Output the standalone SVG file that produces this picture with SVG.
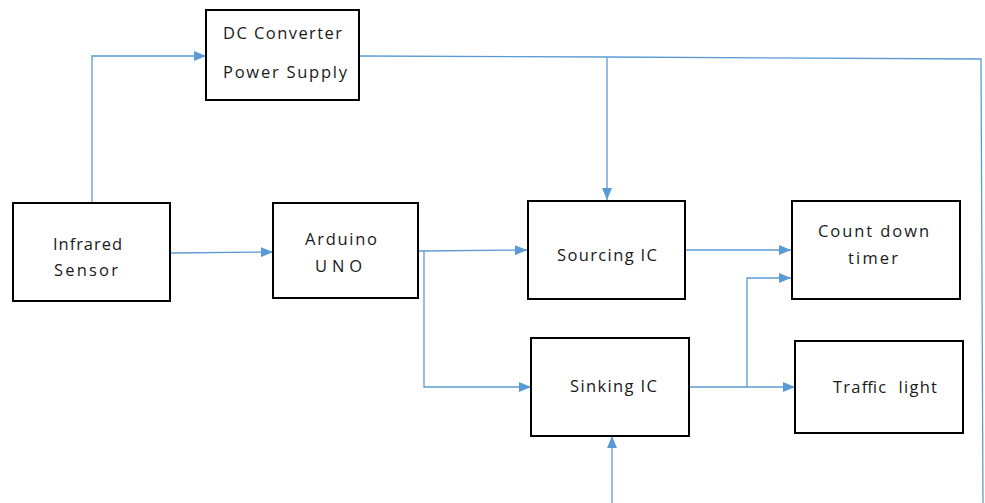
<svg xmlns="http://www.w3.org/2000/svg" width="985" height="503" viewBox="0 0 985 503">
  <style>
    .box { fill: #ffffff; stroke: #000000; stroke-width: 2; }
    .lbl { font-family: "Open Sans", "Liberation Sans", sans-serif; font-size: 16.5px; fill: #1a1a1a; }
    .wire { fill: none; stroke: #5b9bd5; stroke-width: 1.3; }
    .arrow { fill: none; stroke: #5b9bd5; stroke-width: 1.3; marker-end: url(#head); }
  </style>
  <defs>
    <marker id="head" viewBox="0 0 12 10" refX="12" refY="5" markerWidth="12" markerHeight="10" markerUnits="userSpaceOnUse" orient="auto">
      <path d="M0,0 L12,5 L0,10 Z" fill="#5b9bd5"/>
    </marker>
  </defs>
  <rect width="985" height="503" fill="#ffffff"/>

  <g id="connectors">
    <!-- sensor up to power supply -->
    <polyline class="arrow" points="92,203 92,56 206,56"/>
    <!-- power supply rail -->
    <polyline class="wire" points="359,56 607,57 981,59 983,503"/>
    <line class="arrow" x1="607" y1="57" x2="607" y2="200"/>
    <!-- sensor to arduino -->
    <line class="arrow" x1="170" y1="253" x2="273" y2="252"/>
    <!-- arduino outputs -->
    <polyline class="arrow" points="418,251 527,250"/>
    <polyline class="arrow" points="424,251 424,387 531,387"/>
    <!-- sourcing IC to timer -->
    <line class="arrow" x1="685" y1="250" x2="791" y2="250"/>
    <!-- sinking IC outputs -->
    <line class="arrow" x1="689" y1="387" x2="795" y2="387"/>
    <polyline class="arrow" points="747,387 747,278 791,278"/>
    <!-- bottom feed into sinking IC -->
    <line class="arrow" x1="612" y1="503" x2="612" y2="436"/>
  </g>

  <g id="dc-converter">
    <rect class="box" x="206" y="10" width="153" height="90"/>
    <text class="lbl" x="223" y="39" textLength="119" lengthAdjust="spacing">DC Converter</text>
    <text class="lbl" x="223" y="78" textLength="124" lengthAdjust="spacing">Power Supply</text>
  </g>

  <g id="infrared-sensor">
    <rect class="box" x="13" y="203" width="157" height="98"/>
    <text class="lbl" x="53" y="250" textLength="69" lengthAdjust="spacing">Infrared</text>
    <text class="lbl" x="54" y="276" textLength="64" lengthAdjust="spacing">Sensor</text>
  </g>

  <g id="arduino">
    <rect class="box" x="273" y="203" width="145" height="95"/>
    <text class="lbl" x="305" y="245" textLength="72" lengthAdjust="spacing">Arduino</text>
    <text class="lbl" x="315" y="272" textLength="47" lengthAdjust="spacing">UNO</text>
  </g>

  <g id="sourcing-ic">
    <rect class="box" x="528" y="201" width="157" height="98"/>
    <text class="lbl" x="557" y="261" textLength="100" lengthAdjust="spacing">Sourcing IC</text>
  </g>

  <g id="countdown-timer">
    <rect class="box" x="792" y="201" width="168" height="98"/>
    <text class="lbl" x="818" y="237" textLength="111" lengthAdjust="spacing">Count down</text>
    <text class="lbl" x="848" y="264" textLength="50" lengthAdjust="spacing">timer</text>
  </g>

  <g id="sinking-ic">
    <rect class="box" x="531" y="338" width="158" height="98"/>
    <text class="lbl" x="570" y="392" textLength="87" lengthAdjust="spacing">Sinking IC</text>
  </g>

  <g id="traffic-light">
    <rect class="box" x="795" y="341" width="168" height="92"/>
    <text class="lbl" x="833" y="393" textLength="104" lengthAdjust="spacing" xml:space="preserve">Traffic  light</text>
  </g>
</svg>
